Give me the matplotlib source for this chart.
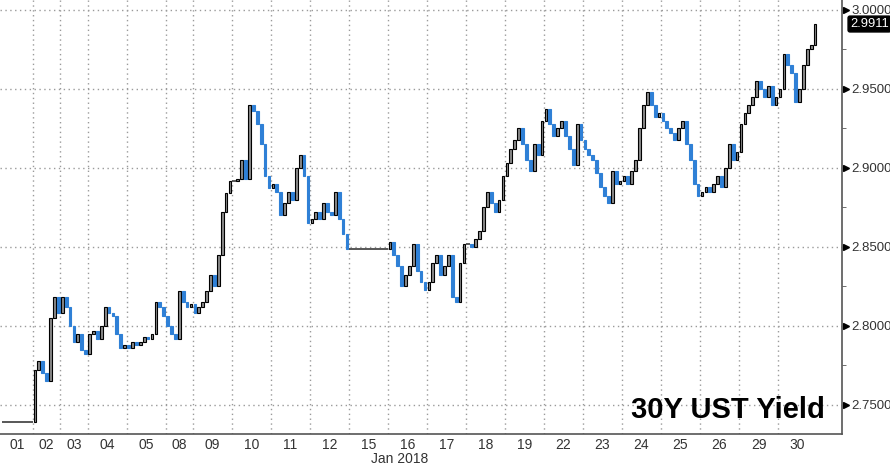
import numpy as np
import matplotlib
matplotlib.use("Agg")
import matplotlib.pyplot as plt
from matplotlib.patches import Rectangle

# trading sessions shown on the axis and how many bars each one holds
day_labels = ["01", "02", "03", "04", "05", "08", "09", "10", "11", "12", "15",
              "16", "17", "18", "19", "22", "23", "24", "25", "26", "29", "30"]
bars_per_day = [8, 7, 7, 10, 10, 7, 10, 10, 10, 10, 10,
                10, 10, 10, 10, 10, 10, 10, 10, 10, 10, 10]

# bar closes (30Y yield, %)
closes = [
    2.739, 2.739, 2.739, 2.739, 2.739, 2.739, 2.739, 2.739,                 # 01
    2.772, 2.778, 2.770, 2.765, 2.805, 2.818, 2.808,                        # 02
    2.818, 2.812, 2.800, 2.790, 2.795, 2.785, 2.782,                        # 03
    2.795, 2.797, 2.792, 2.800, 2.812, 2.808, 2.806, 2.795, 2.786, 2.788,   # 04
    2.786, 2.790, 2.788, 2.790, 2.793, 2.792, 2.795, 2.815, 2.812, 2.806,   # 05
    2.800, 2.795, 2.792, 2.822, 2.815, 2.812, 2.814,                        # 08
    2.808, 2.812, 2.815, 2.822, 2.832, 2.825, 2.845, 2.872, 2.884, 2.892,   # 09
    2.892, 2.893, 2.905, 2.893, 2.940, 2.936, 2.928, 2.915, 2.895, 2.887,   # 10
    2.890, 2.885, 2.870, 2.878, 2.885, 2.880, 2.900, 2.908, 2.895, 2.865,   # 11
    2.868, 2.872, 2.868, 2.878, 2.872, 2.870, 2.885, 2.868, 2.858, 2.849,   # 12
    2.849, 2.849, 2.849, 2.849, 2.849, 2.849, 2.849, 2.849, 2.849, 2.849,   # 15
    2.853, 2.845, 2.838, 2.825, 2.832, 2.838, 2.852, 2.835, 2.828, 2.823,   # 16
    2.828, 2.840, 2.845, 2.832, 2.838, 2.845, 2.818, 2.815, 2.840, 2.852,   # 17
    2.852, 2.850, 2.855, 2.860, 2.875, 2.885, 2.878, 2.872, 2.880, 2.895,   # 18
    2.903, 2.912, 2.918, 2.925, 2.915, 2.905, 2.898, 2.915, 2.908, 2.930,   # 19
    2.937, 2.928, 2.920, 2.925, 2.930, 2.920, 2.912, 2.902, 2.928, 2.918,   # 22
    2.912, 2.908, 2.905, 2.897, 2.888, 2.882, 2.878, 2.898, 2.890, 2.892,   # 23
    2.895, 2.890, 2.898, 2.905, 2.925, 2.940, 2.948, 2.940, 2.932, 2.935,   # 24
    2.930, 2.925, 2.922, 2.918, 2.925, 2.930, 2.915, 2.905, 2.890, 2.882,   # 25
    2.885, 2.888, 2.885, 2.890, 2.895, 2.888, 2.900, 2.915, 2.905, 2.910,   # 26
    2.928, 2.935, 2.940, 2.945, 2.955, 2.950, 2.945, 2.952, 2.940, 2.945,   # 29
    2.950, 2.972, 2.965, 2.960, 2.942, 2.950, 2.965, 2.975, 2.978, 2.991,   # 30
]
last_price = 2.9911
y_ticks = [2.75, 2.80, 2.85, 2.90, 2.95, 3.00]
title = "30Y UST Yield"

plt.rcParams["font.family"] = ["Liberation Sans", "DejaVu Sans"]

fig = plt.figure(figsize=(8.9, 4.7), dpi=100)
ax = fig.add_axes([0.0, 1 - 434 / 470, 842 / 890, 434 / 470])

up_col, dn_col = "#8a8a8a", "#2f80d6"
closes = np.array(closes)
opens = np.r_[closes[0], closes[:-1]]
for i, (o, c) in enumerate(zip(opens, closes)):
    if abs(c - o) < 1e-9:
        ax.hlines(c, i, i + 1, color="#4a4a4a", lw=1.3, zorder=3)
        continue
    lo, hi = min(o, c), max(o, c)
    if c > o:
        r = Rectangle((i + 0.15, lo), 0.7, hi - lo, facecolor=up_col,
                      edgecolor="black", lw=0.8, zorder=3)
    else:
        r = Rectangle((i + 0.15, lo), 0.7, hi - lo, facecolor=dn_col,
                      edgecolor=dn_col, lw=0.8, zorder=3)
    ax.add_patch(r)

bounds = np.cumsum([0] + bars_per_day)
centers = (bounds[:-1] + bounds[1:]) / 2

ax.set_xlim(-0.46, 215.4)
ax.set_ylim(2.7316, 3.0063)

# grid
grid_kw = dict(color="#9a9a9a", lw=1, linestyle=(0, (1, 2.5)), zorder=1)
for b in bounds[1:-1]:
    ax.axvline(b, **grid_kw)
for t in y_ticks:
    ax.axhline(t, **grid_kw)

for s in ["top", "left"]:
    ax.spines[s].set_visible(False)
for s in ["bottom", "right"]:
    ax.spines[s].set_color("#555555")
    ax.spines[s].set_linewidth(1.2)

ax.set_xticks(centers)
ax.set_xticklabels(day_labels)
ax.tick_params(axis="x", length=0, pad=3, labelsize=10, labelcolor="#333333")

ax.yaxis.tick_right()
ax.set_yticks(y_ticks)
ax.set_yticklabels([f"{t:.4f}" for t in y_ticks])
ax.set_yticks([2.775, 2.825, 2.875, 2.925, 2.975], minor=True)
ax.tick_params(axis="y", which="major", length=0, pad=6.5, labelsize=9.5,
               labelcolor="#333333")
ax.tick_params(axis="y", which="minor", length=3, direction="out",
               color="#555555")

# little pointers before each label
ax.plot([1.0045] * len(y_ticks), y_ticks, marker=">", ms=5, color="black",
        ls="none", transform=ax.get_yaxis_transform(), clip_on=False)

# last price tag
ax.text(1.0095, last_price, f"{last_price:.4f}", transform=ax.get_yaxis_transform(),
        ha="left", va="center", color="white", fontsize=9.3,
        bbox=dict(boxstyle="round,pad=0.15", fc="black", ec="black"))

fig.text(400 / 890, 1 - 459 / 470, "Jan 2018", ha="center", va="center",
         fontsize=10, color="#333333")

fig.text(825 / 890, 1 - 418 / 470, title, ha="right", va="baseline",
         fontsize=21, fontweight="bold", color="black")

fig.savefig("out.png", dpi=100)
